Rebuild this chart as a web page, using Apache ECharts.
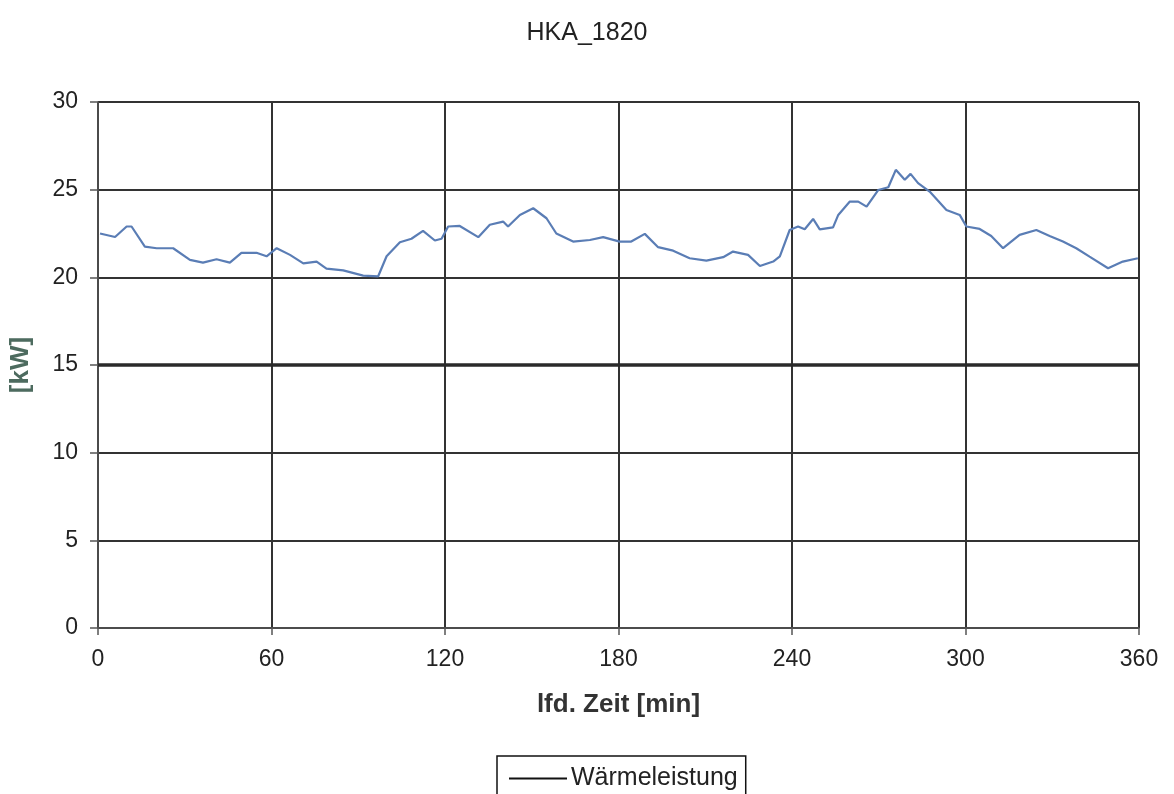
<!DOCTYPE html>
<html><head><meta charset="utf-8">
<script src="https://cdn.jsdelivr.net/npm/echarts@6/dist/echarts.min.js"></script>
<style>html,body{margin:0;padding:0;background:#fff;}#c{width:1174px;height:794px;}</style>
</head><body><div id="c"></div>
<script>
const title = 'HKA_1820';
const seriesName = 'Wärmeleistung';
const xTicks = [0, 60, 120, 180, 240, 300, 360];
const yTicks = [0, 5, 10, 15, 20, 25, 30];
const timeMin = [0.7,5.9,9.9,11.6,16.2,20.3,26,31.8,36.3,41,45.6,49.6,54.8,58.3,61.8,66.4,71,75.6,79,84.8,91.7,96.9,99.8,104.4,108.4,112.4,116.5,118.8,121.1,125.1,131.5,135.5,140.1,141.8,145.9,150.5,155.1,158.5,164.3,170.1,174.7,180.4,184.4,189.1,193.7,198.9,204.6,210.4,216.2,219.6,224.8,228.9,233.5,235.8,239.2,242.1,244.4,247.3,249.6,254.2,256,260,262.9,265.8,269.8,273.3,275.9,279,281,283.6,287.6,293.4,298,300.3,304.9,308.9,313,318.7,324.5,329.1,333.7,338.3,342.9,349.3,354.4,359.6];
const powerKW = [22.5,22.3,22.9,22.9,21.75,21.66,21.66,21.0,20.84,21.03,20.84,21.4,21.4,21.2,21.66,21.28,20.8,20.9,20.5,20.4,20.1,20.06,21.2,22.0,22.2,22.65,22.1,22.2,22.9,22.93,22.29,23.0,23.18,22.9,23.56,23.94,23.37,22.5,22.04,22.13,22.29,22.04,22.04,22.48,21.72,21.52,21.09,20.95,21.15,21.47,21.28,20.65,20.9,21.2,22.7,22.9,22.74,23.33,22.74,22.85,23.56,24.32,24.32,24.03,24.98,25.14,26.13,25.56,25.9,25.37,24.89,23.84,23.56,22.9,22.76,22.36,21.66,22.42,22.7,22.36,22.04,21.66,21.18,20.52,20.9,21.09];
const refLine = 15;

const data = timeMin.map((t, i) => [t, powerKW[i]]);
const chart = echarts.init(document.getElementById('c'), null, {renderer: 'canvas'});
const font = 'Liberation Sans, Arial, sans-serif';
chart.setOption({
  animation: false,
  backgroundColor: '#fff',
  title: {text: title, left: 'center', top: 16, textStyle: {fontFamily: font, fontSize: 25, fontWeight: 'normal', color: '#222'}},
  grid: {left: 98, right: 35, top: 102, bottom: 166, show: false},
  legend: {
    bottom: -9, left: 497, orient: 'horizontal',
    data: [{name: seriesName, icon: 'rect', itemStyle: {color: '#111'}}],
    itemWidth: 58, itemHeight: 2, itemGap: 4,
    backgroundColor: '#fff', borderColor: '#111', borderWidth: 1.5, borderRadius: 0,
    padding: [10, 8, 12, 12],
    textStyle: {fontFamily: font, fontSize: 25, color: '#222', padding: [0, 0, 0, -1]}
  },
  xAxis: {
    type: 'value', min: 0, max: 360, interval: 60,
    name: 'lfd. Zeit [min]', nameLocation: 'middle', nameGap: 64,
    nameTextStyle: {fontFamily: font, fontSize: 26, fontWeight: 'bold', color: '#333'},
    axisLine: {show: true, onZero: false, lineStyle: {color: '#555', width: 1.5}},
    axisTick: {show: true, length: 7, lineStyle: {color: '#555', width: 1.5}},
    axisLabel: {fontFamily: font, fontSize: 23, color: '#222', margin: 20,
      formatter: v => xTicks.includes(v) ? String(v) : ''},
    splitLine: {show: true, lineStyle: {color: '#333', width: 2}}
  },
  yAxis: {
    type: 'value', min: 0, max: 30, interval: 5,
    name: '[kW]', nameLocation: 'middle', nameGap: 64, nameRotate: 90,
    nameTextStyle: {fontFamily: font, fontSize: 26, fontWeight: 'bold', color: '#4d6b5f'},
    axisLine: {show: true, lineStyle: {color: '#555', width: 1.5}},
    axisTick: {show: true, length: 8, lineStyle: {color: '#555', width: 1.5}},
    axisLabel: {fontFamily: font, fontSize: 23, color: '#222', margin: 20,
      formatter: v => yTicks.includes(v) ? String(v) : ''},
    splitLine: {show: true, lineStyle: {color: '#333', width: 2}}
  },
  series: [{
    name: seriesName, type: 'line', data: data, showSymbol: false, symbol: 'none',
    lineStyle: {color: '#5a7db5', width: 2.2}, itemStyle: {color: '#5a7db5'},
    markLine: {silent: true, symbol: 'none', label: {show: false},
      lineStyle: {color: '#2a2a2a', width: 3.5, type: 'solid'},
      data: [{yAxis: refLine}]}
  }]
});
</script></body></html>
